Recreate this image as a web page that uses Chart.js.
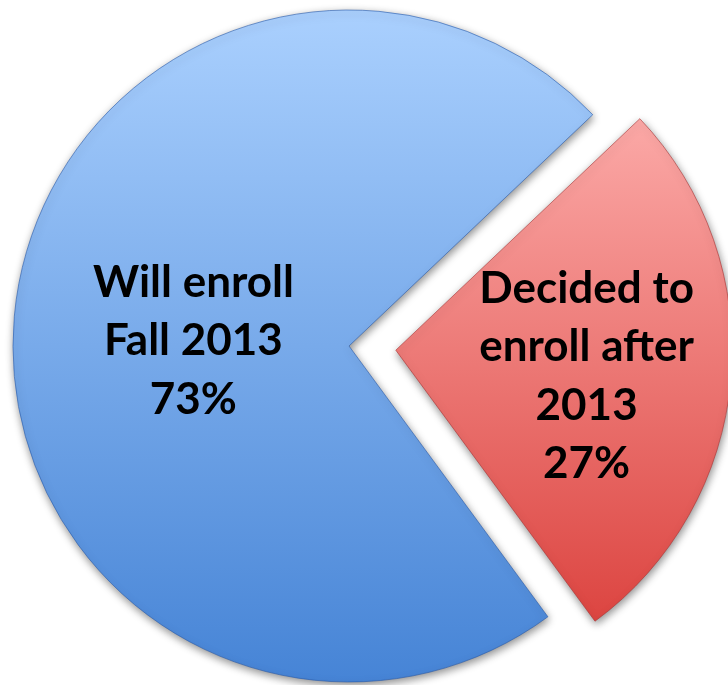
<!DOCTYPE html>
<html>
<head>
<meta charset="utf-8">
<script src="https://cdn.jsdelivr.net/npm/chart.js@4"></script>
<style>
  html, body { margin: 0; padding: 0; background: #fff; }
  #wrap { width: 728px; height: 685px; }
</style>
</head>
<body>
<div id="wrap"><canvas id="pieChart"></canvas></div>
<script>
// data
const categories = ['Decided to enroll after 2013', 'Will enroll Fall 2013'];
const shares = [27, 73];
const labelLines = [
  ['Decided to', 'enroll after', '2013', '27%'],
  ['Will enroll', 'Fall 2013', '73%']
];

// top / bottom colours of each slice gradient
const topColors = ['rgb(251,168,166)', 'rgb(170,208,254)'];
const bottomColors = ['rgb(220,68,64)', 'rgb(70,132,214)'];
const edgeColors = ['rgba(170,50,50,0.6)', 'rgba(40,90,170,0.6)'];
const pieRadius = 336;

function sliceGradient(context) {
  const chart = context.chart;
  const area = chart.chartArea;
  const i = context.dataIndex;
  if (!area) return topColors[i];
  const cy = (area.top + area.bottom) / 2;
  const r = pieRadius;
  let y0 = cy - r, y1 = cy + r;
  if (i === 0) { // the small slice only covers part of the circle
    y0 = cy - r * 0.68;
    y1 = cy + r * 0.82;
  }
  const g = chart.ctx.createLinearGradient(0, y0, 0, y1);
  g.addColorStop(0, topColors[i]);
  g.addColorStop(1, bottomColors[i]);
  return g;
}

// soft shadow under the pie
const shadowPlugin = {
  id: 'shadow',
  beforeDatasetsDraw(chart) {
    const c = chart.ctx;
    c.save();
    c.shadowColor = 'rgba(0,0,0,0.45)';
    c.shadowBlur = 8;
    c.shadowOffsetX = 1;
    c.shadowOffsetY = 3;
  },
  afterDatasetsDraw(chart) {
    chart.ctx.restore();
  }
};

// text inside the slices
const sliceText = {
  id: 'sliceText',
  afterDraw(chart) {
    const c = chart.ctx;
    const arcs = chart.getDatasetMeta(0).data;
    const dist = [0.71, 0.465];
    c.save();
    c.fillStyle = '#000';
    c.font = 'bold 44px Lato, "Open Sans", sans-serif';
    c.textAlign = 'center';
    c.textBaseline = 'middle';
    arcs.forEach((arc, i) => {
      const mid = (arc.startAngle + arc.endAngle) / 2;
      const cx = arc.x + Math.cos(mid) * arc.outerRadius * dist[i];
      const cy = arc.y + Math.sin(mid) * arc.outerRadius * dist[i] + 9;
      const lines = labelLines[i];
      const lh = 58.5;
      lines.forEach((t, k) => {
        c.fillText(t, cx, cy + (k - (lines.length - 1) / 2) * lh);
      });
    });
    c.restore();
  }
};

new Chart(document.getElementById('pieChart'), {
  type: 'pie',
  data: {
    labels: categories,
    datasets: [{
      data: shares,
      backgroundColor: sliceGradient,
      borderColor: edgeColors,
      borderWidth: 1,
      offset: [188, 0],
      hoverOffset: 0,
      radius: pieRadius
    }]
  },
  options: {
    responsive: true,
    maintainAspectRatio: false,
    animation: false,
    rotation: 46.5,
    layout: { padding: { left: 0, right: 30, top: 7, bottom: 0 } },
    plugins: {
      legend: { display: false },
      tooltip: { enabled: false }
    }
  },
  plugins: [shadowPlugin, sliceText]
});
</script>
</body>
</html>
